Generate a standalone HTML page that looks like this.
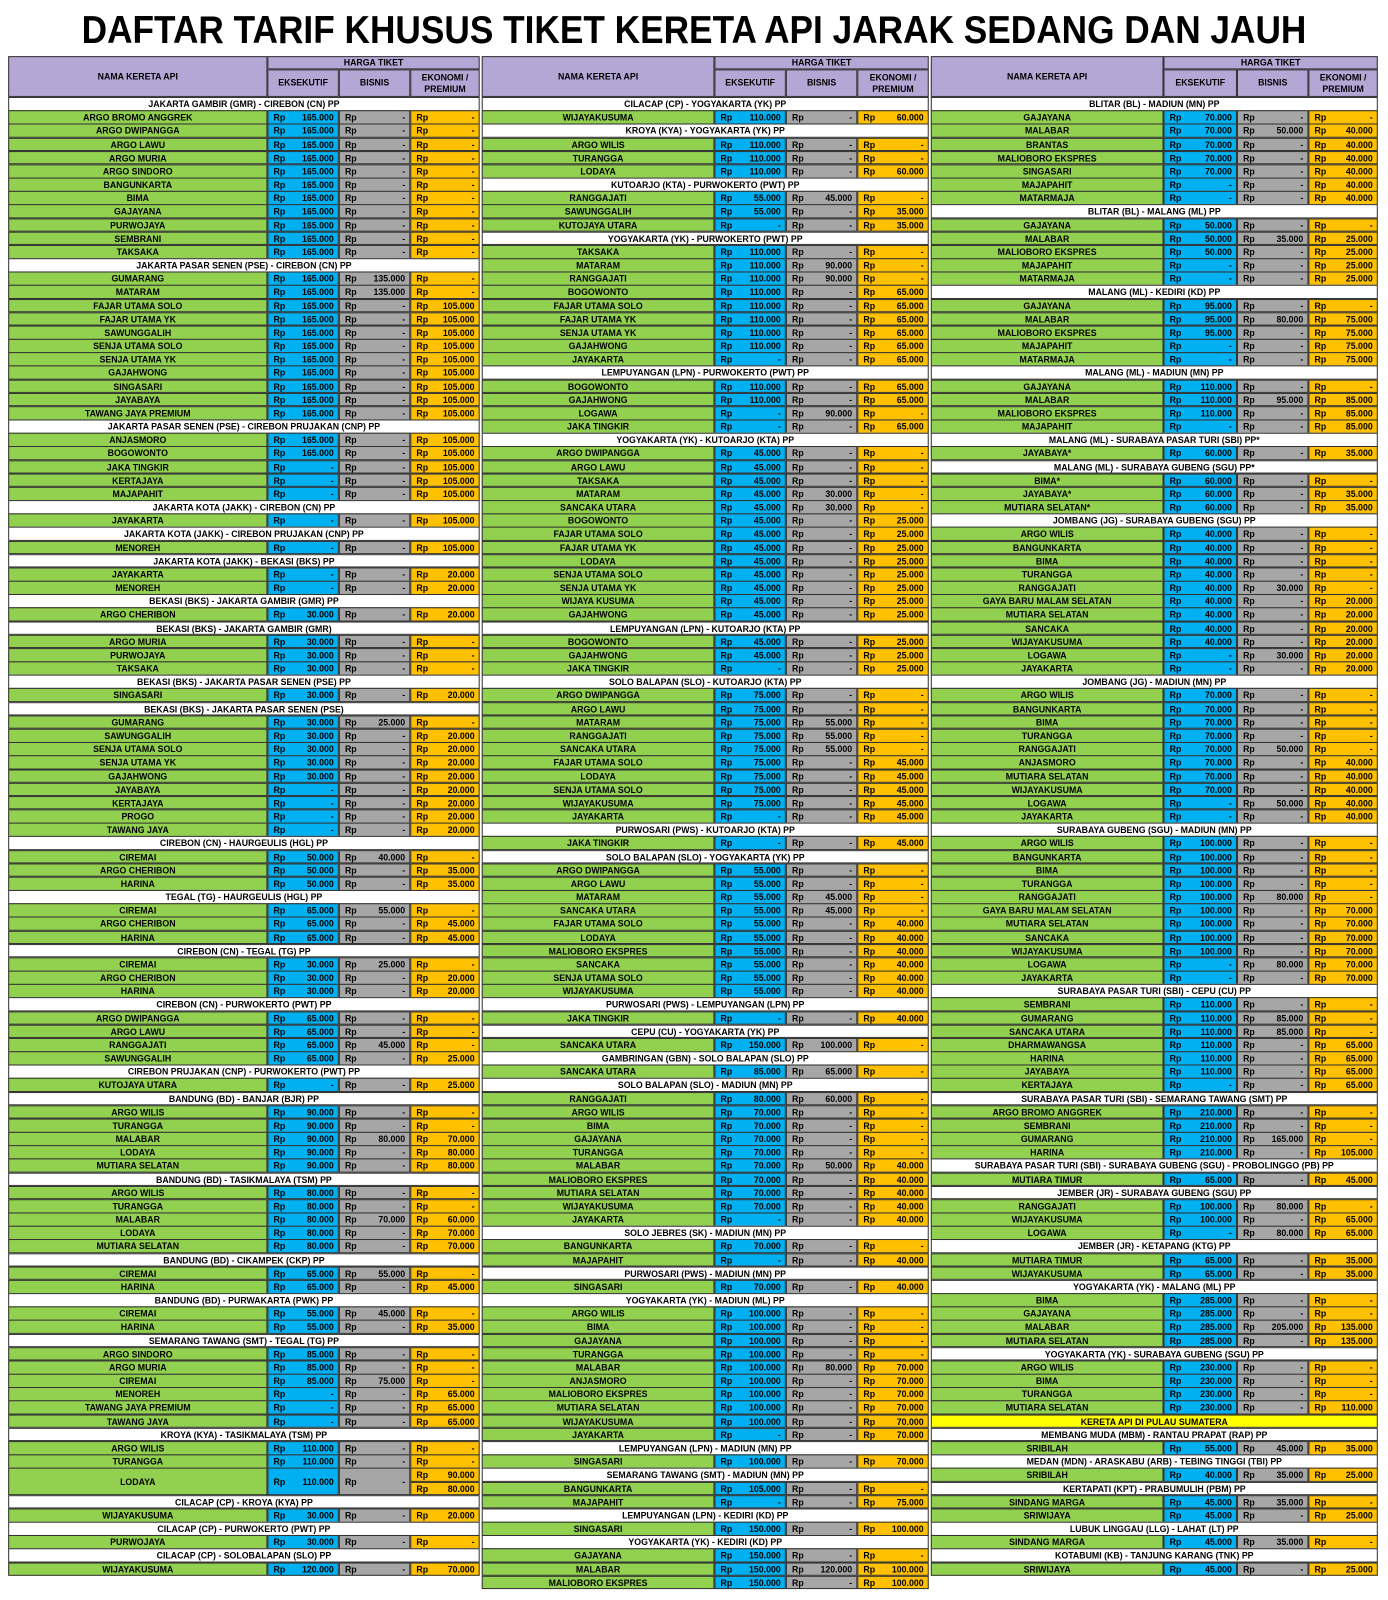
<!DOCTYPE html>
<html><head><meta charset="utf-8">
<style>
body{margin:0;width:1388px;height:1600px;background:#fff;position:relative;overflow:hidden;font-family:"Liberation Sans",Arial,sans-serif;}
#wrap{position:absolute;left:0;top:0;width:1360px;height:1568px;transform:scale(1.0206);transform-origin:0 0}
.c{position:absolute;box-sizing:border-box;border:0.5px solid #333;font-size:8.6px;font-weight:bold;line-height:12.5px;white-space:nowrap;overflow:hidden;color:#000}
.n{background:#92d050;text-align:center}
.e{background:#00b0f0}.b{background:#a6a6a6}.k{background:#ffc000}
.h{background:#fff;text-align:center}
.y{background:#ffff00;text-align:center}
.rp{position:absolute;left:5px}.v{position:absolute;right:4px}
.hd{background:#b4a7d6;text-align:center;display:flex;align-items:center;justify-content:center;line-height:11px;white-space:normal}
</style></head><body>
<div id="wrap">
<svg style="position:absolute;left:0;top:0" width="1360" height="55"><text x="680" y="42" text-anchor="middle" font-family="Liberation Sans" font-weight="bold" font-size="38" textLength="1200" lengthAdjust="spacingAndGlyphs">DAFTAR TARIF KHUSUS TIKET KERETA API JARAK SEDANG DAN JAUH</text></svg>
</div>
<script>
const colLeft = ["#JAKARTA GAMBIR (GMR) - CIREBON (CN) PP",
["ARGO BROMO ANGGREK",165,null,null],["ARGO DWIPANGGA",165,null,null],["ARGO LAWU",165,null,null],["ARGO MURIA",165,null,null],["ARGO SINDORO",165,null,null],["BANGUNKARTA",165,null,null],["BIMA",165,null,null],["GAJAYANA",165,null,null],["PURWOJAYA",165,null,null],["SEMBRANI",165,null,null],["TAKSAKA",165,null,null],
"#JAKARTA PASAR SENEN (PSE) - CIREBON (CN) PP",
["GUMARANG",165,135,null],["MATARAM",165,135,null],["FAJAR UTAMA SOLO",165,null,105],["FAJAR UTAMA YK",165,null,105],["SAWUNGGALIH",165,null,105],["SENJA UTAMA SOLO",165,null,105],["SENJA UTAMA YK",165,null,105],["GAJAHWONG",165,null,105],["SINGASARI",165,null,105],["JAYABAYA",165,null,105],["TAWANG JAYA PREMIUM",165,null,105],
"#JAKARTA PASAR SENEN (PSE) - CIREBON PRUJAKAN (CNP) PP",
["ANJASMORO",165,null,105],["BOGOWONTO",165,null,105],["JAKA TINGKIR",null,null,105],["KERTAJAYA",null,null,105],["MAJAPAHIT",null,null,105],
"#JAKARTA KOTA (JAKK) - CIREBON (CN) PP",["JAYAKARTA",null,null,105],
"#JAKARTA KOTA (JAKK) - CIREBON PRUJAKAN (CNP) PP",["MENOREH",null,null,105],
"#JAKARTA KOTA (JAKK) - BEKASI (BKS) PP",["JAYAKARTA",null,null,20],["MENOREH",null,null,20],
"#BEKASI (BKS) - JAKARTA GAMBIR (GMR) PP",["ARGO CHERIBON",30,null,20],
"#BEKASI (BKS) - JAKARTA GAMBIR (GMR)",["ARGO MURIA",30,null,null],["PURWOJAYA",30,null,null],["TAKSAKA",30,null,null],
"#BEKASI (BKS) - JAKARTA PASAR SENEN (PSE) PP",["SINGASARI",30,null,20],
"#BEKASI (BKS) - JAKARTA PASAR SENEN (PSE)",["GUMARANG",30,25,null],["SAWUNGGALIH",30,null,20],["SENJA UTAMA SOLO",30,null,20],["SENJA UTAMA YK",30,null,20],["GAJAHWONG",30,null,20],["JAYABAYA",null,null,20],["KERTAJAYA",null,null,20],["PROGO",null,null,20],["TAWANG JAYA",null,null,20],
"#CIREBON (CN) - HAURGEULIS (HGL) PP",["CIREMAI",50,40,null],["ARGO CHERIBON",50,null,35],["HARINA",50,null,35],
"#TEGAL (TG) - HAURGEULIS (HGL) PP",["CIREMAI",65,55,null],["ARGO CHERIBON",65,null,45],["HARINA",65,null,45],
"#CIREBON (CN) - TEGAL (TG) PP",["CIREMAI",30,25,null],["ARGO CHERIBON",30,null,20],["HARINA",30,null,20],
"#CIREBON (CN) - PURWOKERTO (PWT) PP",["ARGO DWIPANGGA",65,null,null],["ARGO LAWU",65,null,null],["RANGGAJATI",65,45,null],["SAWUNGGALIH",65,null,25],
"#CIREBON PRUJAKAN (CNP) - PURWOKERTO (PWT) PP",["KUTOJAYA UTARA",null,null,25],
"#BANDUNG (BD) - BANJAR (BJR) PP",["ARGO WILIS",90,null,null],["TURANGGA",90,null,null],["MALABAR",90,80,70],["LODAYA",90,null,80],["MUTIARA SELATAN",90,null,80],
"#BANDUNG (BD) - TASIKMALAYA (TSM) PP",["ARGO WILIS",80,null,null],["TURANGGA",80,null,null],["MALABAR",80,70,60],["LODAYA",80,null,70],["MUTIARA SELATAN",80,null,70],
"#BANDUNG (BD) - CIKAMPEK (CKP) PP",["CIREMAI",65,55,null],["HARINA",65,null,45],
"#BANDUNG (BD) - PURWAKARTA (PWK) PP",["CIREMAI",55,45,null],["HARINA",55,null,35],
"#SEMARANG TAWANG (SMT) - TEGAL (TG) PP",["ARGO SINDORO",85,null,null],["ARGO MURIA",85,null,null],["CIREMAI",85,75,null],["MENOREH",null,null,65],["TAWANG JAYA PREMIUM",null,null,65],["TAWANG JAYA",null,null,65],
"#KROYA (KYA) - TASIKMALAYA (TSM) PP",["ARGO WILIS",110,null,null],["TURANGGA",110,null,null],["LODAYA",110,null,90,80],
"#CILACAP (CP) - KROYA (KYA) PP",["WIJAYAKUSUMA",30,null,20],
"#CILACAP (CP) - PURWOKERTO (PWT) PP",["PURWOJAYA",30,null,null],
"#CILACAP (CP) - SOLOBALAPAN (SLO) PP",["WIJAYAKUSUMA",120,null,70]];
const colMid = ["#CILACAP (CP) - YOGYAKARTA (YK) PP",["WIJAYAKUSUMA",110,null,60],
"#KROYA (KYA) - YOGYAKARTA (YK) PP",["ARGO WILIS",110,null,null],["TURANGGA",110,null,null],["LODAYA",110,null,60],
"#KUTOARJO (KTA) - PURWOKERTO (PWT) PP",["RANGGAJATI",55,45,null],["SAWUNGGALIH",55,null,35],["KUTOJAYA UTARA",null,null,35],
"#YOGYAKARTA (YK) - PURWOKERTO (PWT) PP",["TAKSAKA",110,null,null],["MATARAM",110,90,null],["RANGGAJATI",110,90,null],["BOGOWONTO",110,null,65],["FAJAR UTAMA SOLO",110,null,65],["FAJAR UTAMA YK",110,null,65],["SENJA UTAMA YK",110,null,65],["GAJAHWONG",110,null,65],["JAYAKARTA",null,null,65],
"#LEMPUYANGAN (LPN) - PURWOKERTO (PWT) PP",["BOGOWONTO",110,null,65],["GAJAHWONG",110,null,65],["LOGAWA",null,90,null],["JAKA TINGKIR",null,null,65],
"#YOGYAKARTA (YK) - KUTOARJO (KTA) PP",["ARGO DWIPANGGA",45,null,null],["ARGO LAWU",45,null,null],["TAKSAKA",45,null,null],["MATARAM",45,30,null],["SANCAKA UTARA",45,30,null],["BOGOWONTO",45,null,25],["FAJAR UTAMA SOLO",45,null,25],["FAJAR UTAMA YK",45,null,25],["LODAYA",45,null,25],["SENJA UTAMA SOLO",45,null,25],["SENJA UTAMA YK",45,null,25],["WIJAYA KUSUMA",45,null,25],["GAJAHWONG",45,null,25],
"#LEMPUYANGAN (LPN) - KUTOARJO (KTA) PP",["BOGOWONTO",45,null,25],["GAJAHWONG",45,null,25],["JAKA TINGKIR",null,null,25],
"#SOLO BALAPAN (SLO) - KUTOARJO (KTA) PP",["ARGO DWIPANGGA",75,null,null],["ARGO LAWU",75,null,null],["MATARAM",75,55,null],["RANGGAJATI",75,55,null],["SANCAKA UTARA",75,55,null],["FAJAR UTAMA SOLO",75,null,45],["LODAYA",75,null,45],["SENJA UTAMA SOLO",75,null,45],["WIJAYAKUSUMA",75,null,45],["JAYAKARTA",null,null,45],
"#PURWOSARI (PWS) - KUTOARJO (KTA) PP",["JAKA TINGKIR",null,null,45],
"#SOLO BALAPAN (SLO) - YOGYAKARTA (YK) PP",["ARGO DWIPANGGA",55,null,null],["ARGO LAWU",55,null,null],["MATARAM",55,45,null],["SANCAKA UTARA",55,45,null],["FAJAR UTAMA SOLO",55,null,40],["LODAYA",55,null,40],["MALIOBORO EKSPRES",55,null,40],["SANCAKA",55,null,40],["SENJA UTAMA SOLO",55,null,40],["WIJAYAKUSUMA",55,null,40],
"#PURWOSARI (PWS) - LEMPUYANGAN (LPN) PP",["JAKA TINGKIR",null,null,40],
"#CEPU (CU) - YOGYAKARTA (YK) PP",["SANCAKA UTARA",150,100,null],
"#GAMBRINGAN (GBN) - SOLO BALAPAN (SLO) PP",["SANCAKA UTARA",85,65,null],
"#SOLO BALAPAN (SLO) - MADIUN (MN) PP",["RANGGAJATI",80,60,null],["ARGO WILIS",70,null,null],["BIMA",70,null,null],["GAJAYANA",70,null,null],["TURANGGA",70,null,null],["MALABAR",70,50,40],["MALIOBORO EKSPRES",70,null,40],["MUTIARA SELATAN",70,null,40],["WIJAYAKUSUMA",70,null,40],["JAYAKARTA",null,null,40],
"#SOLO JEBRES (SK) - MADIUN (MN) PP",["BANGUNKARTA",70,null,null],["MAJAPAHIT",null,null,40],
"#PURWOSARI (PWS) - MADIUN (MN) PP",["SINGASARI",70,null,40],
"#YOGYAKARTA (YK) - MADIUN (ML) PP",["ARGO WILIS",100,null,null],["BIMA",100,null,null],["GAJAYANA",100,null,null],["TURANGGA",100,null,null],["MALABAR",100,80,70],["ANJASMORO",100,null,70],["MALIOBORO EKSPRES",100,null,70],["MUTIARA SELATAN",100,null,70],["WIJAYAKUSUMA",100,null,70],["JAYAKARTA",null,null,70],
"#LEMPUYANGAN (LPN) - MADIUN (MN) PP",["SINGASARI",100,null,70],
"#SEMARANG TAWANG (SMT) - MADIUN (MN) PP",["BANGUNKARTA",105,null,null],["MAJAPAHIT",null,null,75],
"#LEMPUYANGAN (LPN) - KEDIRI (KD) PP",["SINGASARI",150,null,100],
"#YOGYAKARTA (YK) - KEDIRI (KD) PP",["GAJAYANA",150,null,null],["MALABAR",150,120,100],["MALIOBORO EKSPRES",150,null,100]];
const colRight = ["#BLITAR (BL) - MADIUN (MN) PP",["GAJAYANA",70,null,null],["MALABAR",70,50,40],["BRANTAS",70,null,40],["MALIOBORO EKSPRES",70,null,40],["SINGASARI",70,null,40],["MAJAPAHIT",null,null,40],["MATARMAJA",null,null,40],
"#BLITAR (BL) - MALANG (ML) PP",["GAJAYANA",50,null,null],["MALABAR",50,35,25],["MALIOBORO EKSPRES",50,null,25],["MAJAPAHIT",null,null,25],["MATARMAJA",null,null,25],
"#MALANG (ML) - KEDIRI (KD) PP",["GAJAYANA",95,null,null],["MALABAR",95,80,75],["MALIOBORO EKSPRES",95,null,75],["MAJAPAHIT",null,null,75],["MATARMAJA",null,null,75],
"#MALANG (ML) - MADIUN (MN) PP",["GAJAYANA",110,null,null],["MALABAR",110,95,85],["MALIOBORO EKSPRES",110,null,85],["MAJAPAHIT",null,null,85],
"#MALANG (ML) - SURABAYA PASAR TURI (SBI) PP*",["JAYABAYA*",60,null,35],
"#MALANG (ML) - SURABAYA GUBENG (SGU) PP*",["BIMA*",60,null,null],["JAYABAYA*",60,null,35],["MUTIARA SELATAN*",60,null,35],
"#JOMBANG (JG) - SURABAYA GUBENG (SGU) PP",["ARGO WILIS",40,null,null],["BANGUNKARTA",40,null,null],["BIMA",40,null,null],["TURANGGA",40,null,null],["RANGGAJATI",40,30,null],["GAYA BARU MALAM SELATAN",40,null,20],["MUTIARA SELATAN",40,null,20],["SANCAKA",40,null,20],["WIJAYAKUSUMA",40,null,20],["LOGAWA",null,30,20],["JAYAKARTA",null,null,20],
"#JOMBANG (JG) - MADIUN (MN) PP",["ARGO WILIS",70,null,null],["BANGUNKARTA",70,null,null],["BIMA",70,null,null],["TURANGGA",70,null,null],["RANGGAJATI",70,50,null],["ANJASMORO",70,null,40],["MUTIARA SELATAN",70,null,40],["WIJAYAKUSUMA",70,null,40],["LOGAWA",null,50,40],["JAYAKARTA",null,null,40],
"#SURABAYA GUBENG (SGU) - MADIUN (MN) PP",["ARGO WILIS",100,null,null],["BANGUNKARTA",100,null,null],["BIMA",100,null,null],["TURANGGA",100,null,null],["RANGGAJATI",100,80,null],["GAYA BARU MALAM SELATAN",100,null,70],["MUTIARA SELATAN",100,null,70],["SANCAKA",100,null,70],["WIJAYAKUSUMA",100,null,70],["LOGAWA",null,80,70],["JAYAKARTA",null,null,70],
"#SURABAYA PASAR TURI (SBI) - CEPU (CU) PP",["SEMBRANI",110,null,null],["GUMARANG",110,85,null],["SANCAKA UTARA",110,85,null],["DHARMAWANGSA",110,null,65],["HARINA",110,null,65],["JAYABAYA",110,null,65],["KERTAJAYA",null,null,65],
"#SURABAYA PASAR TURI (SBI) - SEMARANG TAWANG (SMT) PP",["ARGO BROMO ANGGREK",210,null,null],["SEMBRANI",210,null,null],["GUMARANG",210,165,null],["HARINA",210,null,105],
"#SURABAYA PASAR TURI (SBI) - SURABAYA GUBENG (SGU) - PROBOLINGGO (PB) PP",["MUTIARA TIMUR",65,null,45],
"#JEMBER (JR) - SURABAYA GUBENG (SGU) PP",["RANGGAJATI",100,80,null],["WIJAYAKUSUMA",100,null,65],["LOGAWA",null,80,65],
"#JEMBER (JR) - KETAPANG (KTG) PP",["MUTIARA TIMUR",65,null,35],["WIJAYAKUSUMA",65,null,35],
"#YOGYAKARTA (YK) - MALANG (ML) PP",["BIMA",285,null,null],["GAJAYANA",285,null,null],["MALABAR",285,205,135],["MUTIARA SELATAN",285,null,135],
"#YOGYAKARTA (YK) - SURABAYA GUBENG (SGU) PP",["ARGO WILIS",230,null,null],["BIMA",230,null,null],["TURANGGA",230,null,null],["MUTIARA SELATAN",230,null,110],
"!KERETA API DI PULAU SUMATERA",
"#MEMBANG MUDA (MBM) - RANTAU PRAPAT (RAP) PP",["SRIBILAH",55,45,35],
"#MEDAN (MDN) - ARASKABU (ARB) - TEBING TINGGI (TBI) PP",["SRIBILAH",40,35,25],
"#KERTAPATI (KPT) - PRABUMULIH (PBM) PP",["SINDANG MARGA",45,35,null],["SRIWIJAYA",45,null,25],
"#LUBUK LINGGAU (LLG) - LAHAT (LT) PP",["SINDANG MARGA",45,35,null],
"#KOTABUMI (KB) - TANJUNG KARANG (TNK) PP",["SRIWIJAYA",45,null,25]];

const cols=[{d:colLeft,x:[8,262,332,402,470]},{d:colMid,x:[472,700,770,840,910]},{d:colRight,x:[912,1140,1212,1282,1350]}];
const TOP=95, RH=13.17;
const wrap=document.getElementById('wrap');
function cell(cls,x,y,w,h,html){const el=document.createElement('div');el.className='c '+cls;el.style.left=x+'px';el.style.top=y+'px';el.style.width=w+'px';el.style.height=h+'px';el.innerHTML=html;wrap.appendChild(el);return el;}
function fmt(v){return v==null?'-':v+'.000';}
cols.forEach((c,ci)=>{
  const X=c.x;
  let e=cell('hd',X[0],55,X[1]-X[0],40,'NAMA KERETA API');
  
  
  e=cell('hd',X[1],55,X[4]-X[1],13,'HARGA TIKET');
  
  
  e=cell('hd e',X[1],68,X[2]-X[1],27,'EKSEKUTIF');
  
  
  e=cell('hd b',X[2],68,X[3]-X[2],27,'BISNIS');
  
  
  e=cell('hd k',X[3],68,X[4]-X[3],27,'EKONOMI /<br>PREMIUM');
  
  
  let i=0;
  c.d.forEach(r=>{
    const y=TOP+i*RH;
    if(typeof r==='string'){
      const el=cell(r[0]==='!'?'y':'h',X[0],y,X[4]-X[0],RH+0.5,r.slice(1));
      
      
      i++;return;
    }
    const two=r.length>4, h=two?RH*2:RH;
    const n=cell('n',X[0],y,X[1]-X[0],h+0.5,r[0]);
    if(two) n.style.lineHeight=(h)+'px';
    
    
    const a=cell('e',X[1],y,X[2]-X[1],h+0.5,'<span class="rp">Rp</span><span class="v">'+fmt(r[1])+'</span>');
    if(two) a.style.lineHeight=h+'px';
    
    
    const b=cell('b',X[2],y,X[3]-X[2],h+0.5,'<span class="rp">Rp</span><span class="v">'+fmt(r[2])+'</span>');
    if(two) b.style.lineHeight=h+'px';
    
    
    const k=cell('k',X[3],y,X[4]-X[3],RH+0.5,'<span class="rp">Rp</span><span class="v">'+fmt(r[3])+'</span>');
    
    
    if(two){
      const k2=cell('k',X[3],y+RH,X[4]-X[3],RH+0.5,'<span class="rp">Rp</span><span class="v">'+fmt(r[4])+'</span>');
      
      
    }
    i+=two?2:1;
  });
});
</script>
</body></html>
